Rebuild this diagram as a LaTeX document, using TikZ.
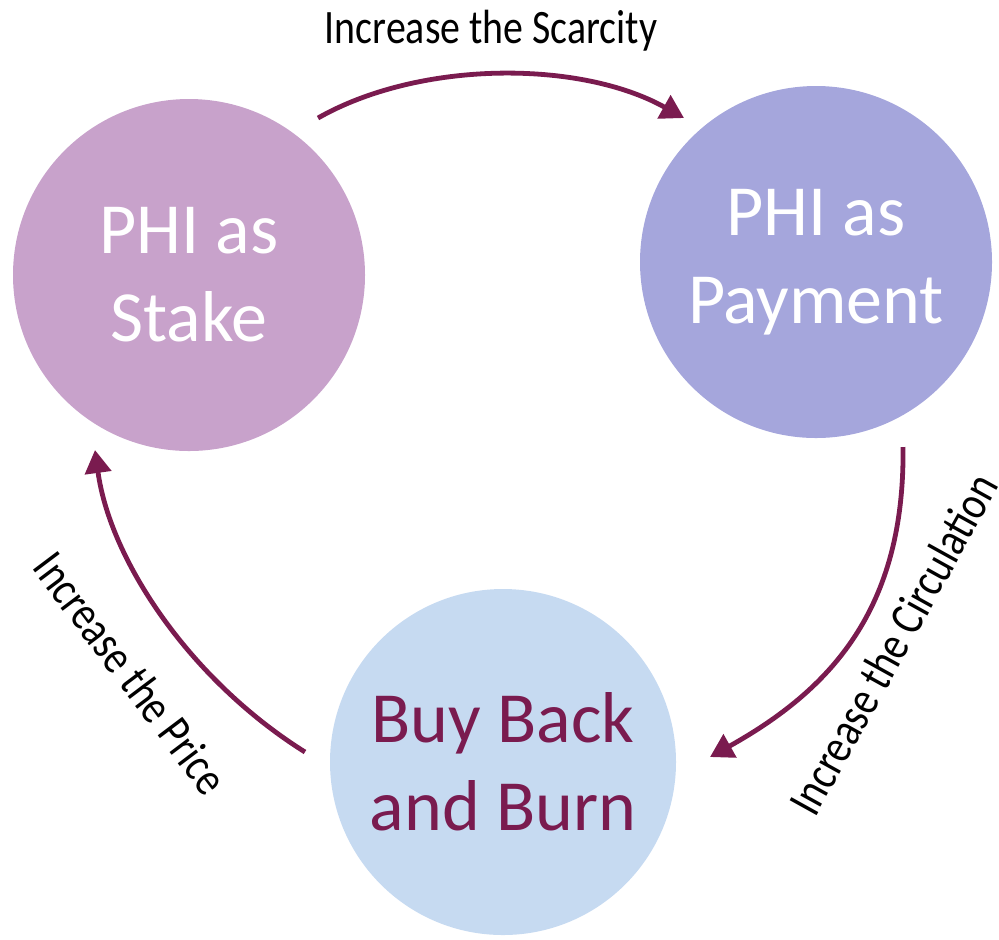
\documentclass[tikz,border=0pt]{standalone}
\usepackage{fontspec}
\setmainfont{Carlito}
\newfontfamily\labelfont{Carlito}[FakeStretch=0.83]
\usetikzlibrary{arrows.meta}

\definecolor{stakefill}{HTML}{C8A2CB}
\definecolor{payfill}{HTML}{A5A6DC}
\definecolor{burnfill}{HTML}{C6DAF1}
\definecolor{maroon}{HTML}{7A1B4F}

\tikzset{
  phase/.style={circle, inner sep=0pt, align=center,
    font=\fontsize{36}{44}\selectfont},
  flow/.style={draw=maroon, line width=2.4pt,
    -{Triangle[length=11.5pt, width=13pt]}},
  flowlabel/.style={font=\labelfont\fontsize{24}{28}\selectfont, text=black}
}

\begin{document}
\begin{tikzpicture}[x=0.5pt, y=-0.5pt]
  \useasboundingbox (0,0) rectangle (999,939);

  % the three stages of the token cycle
  \node[phase, fill=stakefill, minimum size=176pt, text=white] (stake) at (189,275) {PHI as\\Stake};
  \node[phase, fill=payfill, minimum size=176pt, text=white] (payment) at (816,262) {PHI as\\Payment};
  \node[phase, fill=burnfill, minimum size=173pt, text=maroon] (burn) at (503,762) {Buy Back\\and Burn};

  % ends of the connectors, just off the circles
  \coordinate (stakeOut) at (318,118);
  \coordinate (payIn) at (684,118);
  \coordinate (payOut) at (903,447);
  \coordinate (burnIn) at (710,757);
  \coordinate (burnOut) at (305,752);
  \coordinate (stakeIn) at (95,450);

  % connectors
  \draw[flow] (stakeOut) .. controls (420,60) and (580,60) .. (payIn);
  \draw[flow] (payOut) .. controls (905,610) and (830,690) .. (burnIn);
  \draw[flow] (burnOut) .. controls (190,680) and (110,560) .. (stakeIn);

  % connector labels
  \node[flowlabel, anchor=base] (lScarcity) at (491,43) {Increase the Scarcity};
  \node[flowlabel, rotate=61] (lCirculation) at (893,644) {Increase the Circulation};
  \node[flowlabel, rotate=-53] (lPrice) at (131,673) {Increase the Price};
\end{tikzpicture}
\end{document}
